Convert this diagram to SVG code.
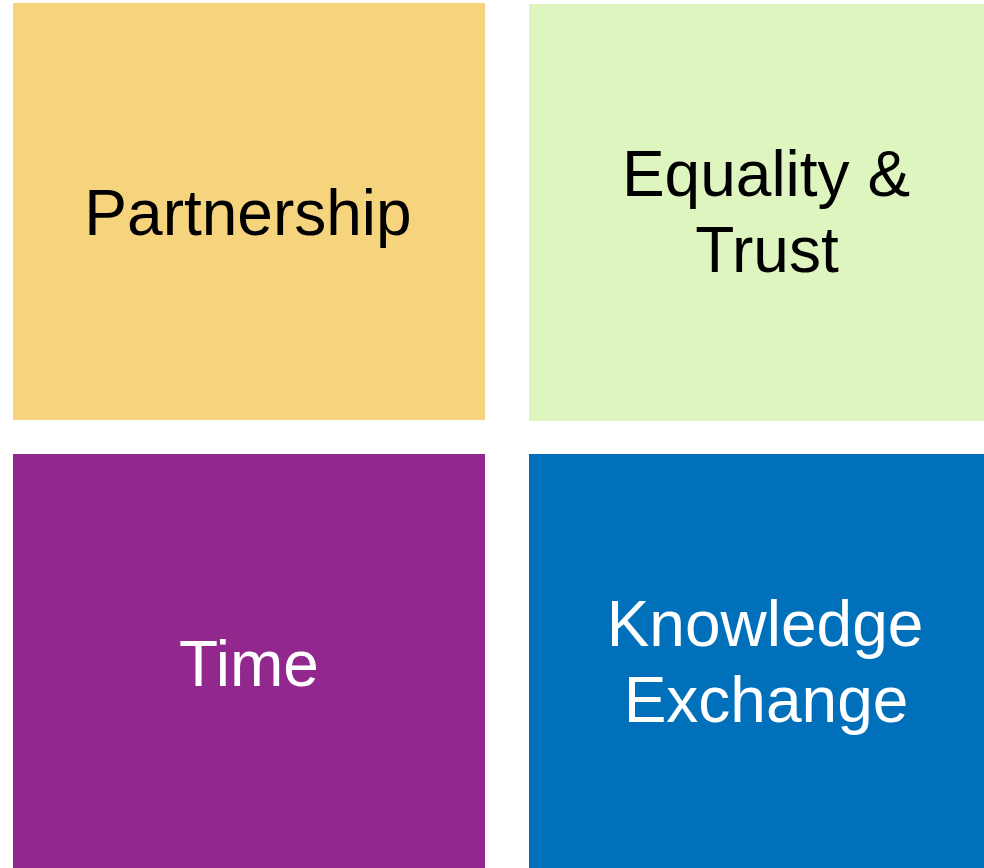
<svg xmlns="http://www.w3.org/2000/svg" width="984" height="868" viewBox="0 0 984 868">
<style>
.t{font-family:"Liberation Sans",Arial,sans-serif;font-size:64px;text-anchor:middle}
.dk{fill:#000000}
.lt{fill:#ffffff}
</style>
<rect width="984" height="868" fill="#ffffff"/>
<g id="partnership">
<rect x="13" y="3" width="472" height="417" fill="#F6D47D"/>
<text class="t dk" x="248" y="235">Partnership</text>
</g>
<g id="equality-trust">
<rect x="529" y="4" width="475" height="417" fill="#DEF5C0"/>
<text class="t dk" x="766" y="196">Equality &amp;</text>
<text class="t dk" x="767" y="272">Trust</text>
</g>
<g id="time">
<rect x="13" y="454" width="472" height="414" fill="#92278E"/>
<text class="t lt" x="249" y="686">Time</text>
</g>
<g id="knowledge-exchange">
<rect x="529" y="454" width="475" height="414" fill="#0070BB"/>
<text class="t lt" x="765" y="646">Knowledge</text>
<text class="t lt" x="766" y="722">Exchange</text>
</g>
<g id="connectors"></g>
</svg>
